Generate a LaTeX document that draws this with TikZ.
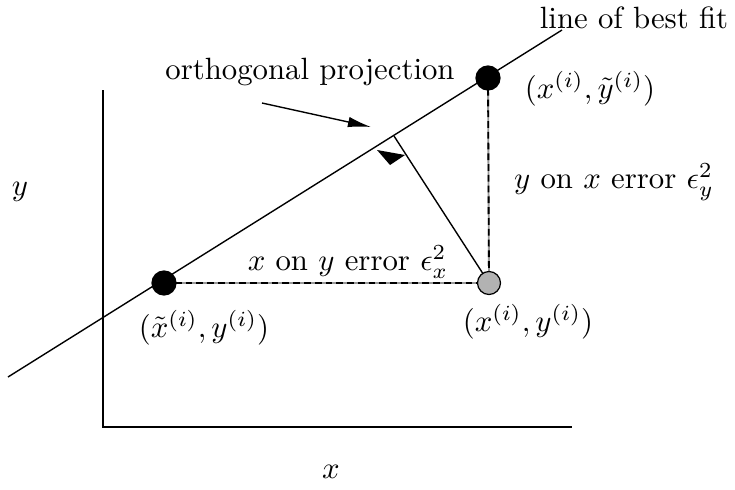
\documentclass[tikz,border=0pt]{standalone}
\usetikzlibrary{arrows.meta,calc}
\begin{document}
\begin{tikzpicture}[x=0.325pt,y=-0.325pt,
  thin line/.style={line width=0.45pt},
  blackdot/.style={circle,fill=black,draw=black,minimum size=24*0.325pt,inner sep=0pt},
  graydot/.style={circle,fill=black!30,draw=black,line width=0.4pt,minimum size=23*0.325pt,inner sep=0pt},
  errline/.style={line width=0.6pt,draw=black!40},
  errdash/.style={line width=0.6pt,draw=black,dash pattern=on 2.2pt off 1.3pt},
  lbl/.style={inner sep=0pt}]
\useasboundingbox (0,0) rectangle (735,489);
% axes
\coordinate (ytop) at (103,90);
\coordinate (orig) at (103,427);
\coordinate (xend) at (572,427);
\draw[thin line] (ytop) -- (orig) -- (xend);
\node[lbl] (ylab) at (20,192) {$y$};
\node[lbl] (xlab) at (331,472) {$x$};
% line of best fit
\coordinate (L1) at (8,377);
\coordinate (L2) at (562,30);
\draw[thin line] (L1) -- (L2);
\node[lbl] (lbf) at (634,18) {line of best fit};
% points
\coordinate (pa) at (164,283);
\coordinate (pb) at (488,78);
\coordinate (pc) at (489,283);
\coordinate (foot) at (394,136);
% dashed errors
\draw[errline] (pa) -- (pc);
\draw[errdash] (pa) -- (pc);
\draw[errline] (pb) -- (pc);
\draw[errdash] (pb) -- (pc);
% projection
\draw[thin line] (pc) -- (foot);
\fill (377,150) -- (390,165) -- (405,155) -- cycle;
\node[graydot] (gc) at (pc) {};
\node[blackdot] (ga) at (pa) {};
\node[blackdot] (gb) at (pb) {};
% orthogonal projection label and arrow
\node[lbl] (op) at (310,72) {orthogonal projection};
\coordinate (opa) at (262,103);
\coordinate (opb) at (371,127);
\draw[thin line,-{Latex[length=7.5pt,width=3.4pt]}] (opa) -- (opb);
% labels
\node[lbl] (lb) at (590,89) {$(x^{(i)},\tilde{y}^{(i)})$};
\node[lbl] (lyx) at (614,182) {$y$ on $x$ error $\epsilon_y^2$};
\node[lbl] (lxy) at (348,262) {$x$ on $y$ error $\epsilon_x^2$};
\node[lbl] (la) at (204,328) {$(\tilde{x}^{(i)},y^{(i)})$};
\node[lbl] (lc) at (528,322) {$(x^{(i)},y^{(i)})$};
\end{tikzpicture}
\end{document}
